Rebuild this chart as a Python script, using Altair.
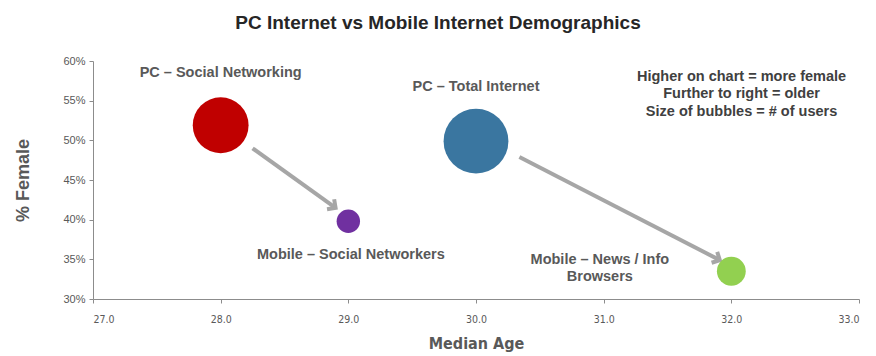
import math
import altair as alt
import pandas as pd

# ---- data ----
names = ["PC – Social Networking", "Mobile – Social Networkers", "PC – Total Internet", "Mobile – News / Info Browsers"]
median_age = [28.0, 29.0, 30.0, 32.0]
pct_female = [0.519, 0.398, 0.499, 0.335]
users = [961, 169, 1296, 256]  # relative bubble size
colors = ["#C00000", "#7030A0", "#3A76A0", "#92D050"]

label_text = ["PC – Social Networking", "Mobile – Social Networkers", "PC – Total Internet", "Mobile – News / Info\nBrowsers"]
label_x = [28.0, 29.02, 30.0, 30.97]
label_y = [0.585, 0.355, 0.567, 0.349]

arrow_x1 = [28.25, 30.34]
arrow_y1 = [0.490, 0.479]
arrow_x2 = [28.90, 31.91]
arrow_y2 = [0.415, 0.349]

note_text = "Higher on chart = more female\nFurther to right = older\nSize of bubbles = # of users"
note_x = 32.08
note_y = 0.580

y_ticks = [0.30, 0.35, 0.40, 0.45, 0.50, 0.55, 0.60]
x_ticks = [27, 28, 29, 30, 31, 32, 33]

W, H = 766, 238
XDOM = [27, 33]
YDOM = [0.30, 0.60]

bub = pd.DataFrame({"name": names, "age": median_age, "female": pct_female, "users": users, "color": colors})
lab = pd.DataFrame({"t": label_text, "x": label_x, "y": label_y})
px_x = W / (XDOM[1] - XDOM[0])
px_y = H / (YDOM[1] - YDOM[0])
angles = [math.degrees(math.atan2((a - b) * px_y, (d - c) * px_x)) % 360
          for a, b, c, d in zip(arrow_y1, arrow_y2, arrow_x1, arrow_x2)]
arr = pd.DataFrame({"x1": arrow_x1, "y1": arrow_y1, "x2": arrow_x2, "y2": arrow_y2, "ang": angles})
note = pd.DataFrame({"t": [note_text], "x": [note_x], "y": [note_y]})

xs = alt.Scale(domain=XDOM, nice=False, zero=False)
ys = alt.Scale(domain=YDOM, nice=False, zero=False)

FONT = "Liberation Sans"
NARROW = "DejaVu Sans Condensed"
GREY = "#595959"

xax = alt.Axis(values=x_ticks, format=".1f", grid=False, title="Median Age",
               labelFont=NARROW, labelFontSize=10.5, labelColor=GREY, titleFont=NARROW, titleFontSize=16,
               titleColor=GREY, titleFontWeight="bold", domainColor="#8c8c8c", tickColor="#8c8c8c",
               tickSize=4, labelPadding=11, titlePadding=11, labelOverlap=False)
yax = alt.Axis(values=y_ticks, format=".0%", grid=False, title="% Female",
               labelFont=FONT, labelFontSize=11, labelColor=GREY, titleFont=FONT, titleFontSize=18,
               titleColor=GREY, titleFontWeight="bold", domainColor="#8c8c8c", tickColor="#8c8c8c",
               tickSize=4, labelPadding=4, titlePadding=30, labelOverlap=False, labelBound=False)

bubbles = alt.Chart(bub).mark_circle(opacity=1).encode(
    x=alt.X("age:Q", scale=xs, axis=xax),
    y=alt.Y("female:Q", scale=ys, axis=yax),
    size=alt.Size("users:Q", scale=alt.Scale(domain=[0, 1296], range=[0, 4200]), legend=None),
    color=alt.Color("color:N", scale=None),
)

lines = alt.Chart(arr).mark_rule(color="#a6a6a6", strokeWidth=4).encode(
    x=alt.X("x1:Q", scale=xs, axis=xax), y=alt.Y("y1:Q", scale=ys, axis=yax), x2="x2:Q", y2="y2:Q")

heads = alt.Chart(arr).mark_point(shape="M-1,-1L0,0L-1,1", filled=False, color="#a6a6a6",
                                  strokeWidth=4, size=150, opacity=1).encode(
    x=alt.X("x2:Q", scale=xs, axis=xax), y=alt.Y("y2:Q", scale=ys, axis=yax),
    angle=alt.Angle("ang:Q", scale=None))

labels = alt.Chart(lab).mark_text(font=FONT, fontSize=14.5, fontWeight="bold", color=GREY,
                                  lineBreak="\n", lineHeight=17, align="center", baseline="middle").encode(
    x=alt.X("x:Q", scale=xs, axis=xax), y=alt.Y("y:Q", scale=ys, axis=yax), text="t:N")

notes = alt.Chart(note).mark_text(font=FONT, fontSize=14.5, fontWeight="bold", color="#404040",
                                  lineBreak="\n", lineHeight=17.5, align="center", baseline="middle").encode(
    x=alt.X("x:Q", scale=xs, axis=xax), y=alt.Y("y:Q", scale=ys, axis=yax), text="t:N")

chart = alt.layer(lines, heads, bubbles, labels, notes).properties(
    width=W, height=H,
    title=alt.TitleParams("PC Internet vs Mobile Internet Demographics", font=FONT, fontSize=19,
                          fontWeight="bold", color="#262626", anchor="middle", frame="group",
                          dx=-38, offset=22),
    autosize=alt.AutoSizeParams(type="none"),
    padding={"left": 85, "top": 53, "right": 1, "bottom": 57},
).configure_view(stroke=None)

chart.save("out.html", embed_options={"renderer": "svg", "actions": False})
